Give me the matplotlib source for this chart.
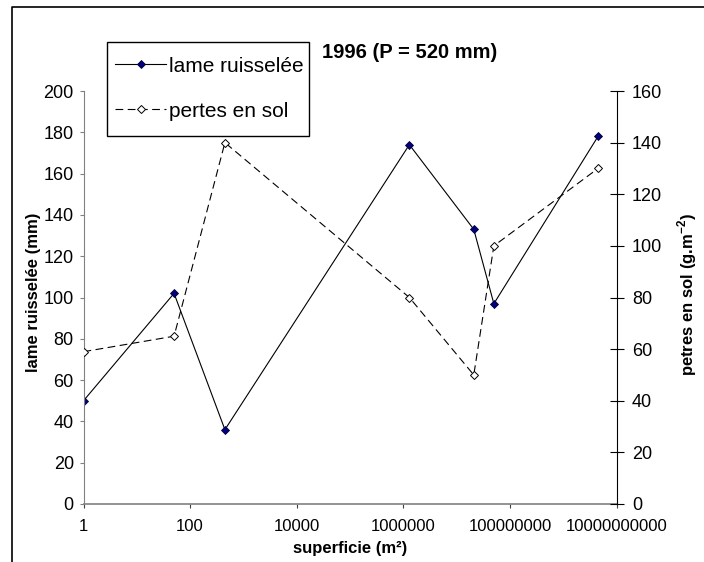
import matplotlib
matplotlib.use("Agg")
import matplotlib.pyplot as plt
from matplotlib.lines import Line2D
from matplotlib.patches import Rectangle
from matplotlib.ticker import FixedLocator, FixedFormatter, NullLocator

plt.rcParams['font.family'] = ['Liberation Sans', 'DejaVu Sans']
plt.rcParams['mathtext.fontset'] = 'custom'
plt.rcParams['mathtext.rm'] = 'Liberation Sans'
plt.rcParams['mathtext.bf'] = 'Liberation Sans:bold'

# data
superficie = [1, 50, 450, 1.3e6, 2.1e7, 5e7, 4.5e9]
lame_ruisselee = [50, 102, 36, 174, 133, 97, 178]
pertes_en_sol = [59, 65, 140, 80, 50, 100, 130]
x_ticks = [1, 1e2, 1e4, 1e6, 1e8, 1e10]
x_ticklabels = ["1", "100", "10000", "1000000", "100000000", "10000000000"]
left_ticks = list(range(0, 201, 20))
right_ticks = list(range(0, 161, 20))

W, H = 704, 562
fig = plt.figure(figsize=(W / 100, H / 100), dpi=100)
ax = fig.add_axes([83.5 / W, 1 - 504 / H, 533 / W, 413 / H])
ax2 = ax.twinx()

l1, = ax.plot(superficie, lame_ruisselee, color='black', lw=0.8, marker='D',
              ms=4.3, mfc='#000080', mec='#000033', mew=0.6, label='lame ruisselée')
l2, = ax2.plot(superficie, pertes_en_sol, color='black', lw=0.8, ls=(0, (7, 4)),
               marker='D', ms=4.3, mfc='white', mec='black', mew=0.7,
               label='pertes en sol')

ax.set_xscale('log')
ax.set_xlim(1, 1e10)
ax.set_ylim(0, 200)
ax2.set_ylim(0, 160)
ax.xaxis.set_major_locator(FixedLocator(x_ticks))
ax.xaxis.set_major_formatter(FixedFormatter(x_ticklabels))
ax.xaxis.set_minor_locator(NullLocator())
ax.set_yticks(left_ticks)
ax2.set_yticks(right_ticks)

for a in (ax, ax2):
    a.spines['top'].set_visible(False)
    a.set_facecolor('none')
ax.spines['right'].set_visible(False)
ax2.spines['left'].set_visible(False)
ax2.spines['bottom'].set_visible(False)
ax.spines['bottom'].set_color('#808080')
ax.spines['left'].set_color('#808080')
ax.spines['bottom'].set_linewidth(1.2)
ax2.spines['right'].set_color('black')

ax.tick_params(axis='x', direction='out', length=3, color='#404040', pad=8,
               labelsize=12)
ax.tick_params(axis='y', direction='out', length=3, color='#808080', pad=4,
               labelsize=13)
ax2.tick_params(axis='y', direction='inout', length=10, color='black', pad=6,
                labelsize=13)

fig.text(350 / W, 1 - 548 / H, 'superficie (m²)', ha='center', va='center',
         fontsize=12, fontweight='bold')
fig.text(34 / W, 1 - 292 / H, 'lame ruisselée (mm)', ha='center', va='center',
         rotation=90, fontsize=12, fontweight='bold')
fig.text(687 / W, 1 - 295 / H, r'petres en sol (g.m$^{\mathbf{-2}}$)', ha='center',
         va='center', rotation=90, fontsize=12, fontweight='bold')

fig.text(410 / W, 1 - 53 / H, '1996 (P = 520 mm)', ha='center', va='center',
         fontsize=14.5, fontweight='bold')

leg = fig.legend(handles=[l1, l2], loc='center left',
                 bbox_to_anchor=(115 / W, 1 - 88.7 / H), borderaxespad=0,
                 fontsize=15, frameon=False, borderpad=0,
                 handlelength=2.45, handletextpad=0.15, labelspacing=1.24,
                 numpoints=1)
fig.add_artist(Rectangle((107 / W, 1 - 135.7 / H), 202 / W, 94 / H,
                         transform=fig.transFigure, fill=False,
                         edgecolor='black', lw=1.0))

# outer chart frame (cut at right and bottom)
fig.add_artist(Line2D([11.5 / W, 11.5 / W, 1.0], [0.0, 1 - 7 / H, 1 - 7 / H],
                      transform=fig.transFigure, color='black', lw=1.2))

fig.savefig('out.png', dpi=100)
